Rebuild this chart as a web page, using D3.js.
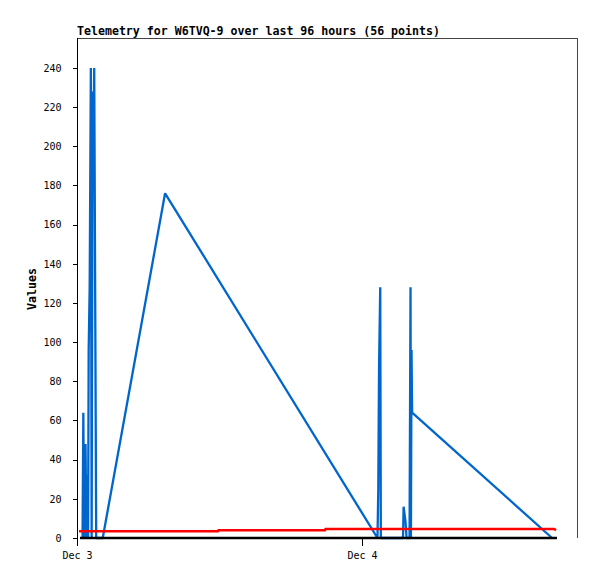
<!DOCTYPE html>
<html>
<head>
<meta charset="utf-8">
<script src="https://cdn.jsdelivr.net/npm/d3@7"></script>
<style>
  html, body { margin: 0; padding: 0; background: #fff; }
  svg { display: block; }
  text { font-family: "DejaVu Sans Mono", monospace; fill: #000; }
</style>
</head>
<body>
<svg id="chart" width="597" height="579"></svg>
<script>
// ---- data ----
const titleText = "Telemetry for W6TVQ-9 over last 96 hours (56 points)";
const yLabel = "Values";
const xDomain = ["2023-12-03 00:00", "2023-12-04 18:06"];
const yTicks = [0, 20, 40, 60, 80, 100, 120, 140, 160, 180, 200, 220, 240];
const xTicks = ["2023-12-03 00:00", "2023-12-04 00:00"];

const blueTimes = [
  "2023-12-03 00:28", "2023-12-03 00:32", "2023-12-03 00:36", "2023-12-03 00:43",
  "2023-12-03 00:48", "2023-12-03 00:53", "2023-12-03 00:56", "2023-12-03 00:59",
  "2023-12-03 01:04", "2023-12-03 01:10", "2023-12-03 01:14", "2023-12-03 01:19",
  "2023-12-03 01:22", "2023-12-03 01:27", "2023-12-03 01:32", "2023-12-03 01:37",
  "2023-12-03 02:10", "2023-12-03 07:25",
  "2023-12-04 01:18", "2023-12-04 01:22", "2023-12-04 01:26", "2023-12-04 01:32",
  "2023-12-04 01:35", "2023-12-04 03:27", "2023-12-04 03:30", "2023-12-04 03:40",
  "2023-12-04 03:45", "2023-12-04 04:00", "2023-12-04 04:05", "2023-12-04 04:07",
  "2023-12-04 04:10", "2023-12-04 04:13", "2023-12-04 16:00"
];
const blueValues = [
  0, 64, 0, 48,
  0, 32, 0, 96,
  128, 240, 0, 228,
  192, 240, 121, 0,
  0, 176,
  0, 24, 88, 128,
  0, 0, 16, 8,
  0, 0, 128, 0,
  96, 64, 0
];

const redTimes = [
  "2023-12-03 00:10", "2023-12-03 11:52", "2023-12-03 11:55", "2023-12-03 20:53",
  "2023-12-03 20:56", "2023-12-04 16:10", "2023-12-04 16:20"
];
const redValues = [3.5, 3.5, 4.0, 4.0, 4.6, 4.6, 4.0];

const blackTimes = ["2023-12-03 00:15", "2023-12-04 16:25"];
const blackValues = [0, 0];

// ---- chart ----
const parse = d3.timeParse("%Y-%m-%d %H:%M");
const svg = d3.select("#chart");
const mLeft = 77, mRight = 577, mTop = 38, mBottom = 538;

const x = d3.scaleTime().domain(xDomain.map(parse)).range([mLeft, mRight]);
const y = d3.scaleLinear().domain([0, 255.3]).range([mBottom, mTop]);

// frame (top and right)
svg.append("path")
  .attr("d", `M${mLeft},${mTop + 0.5}H${mRight + 0.5}V${mBottom}`)
  .attr("fill", "none").attr("stroke", "#444").attr("stroke-width", 1)
  .attr("shape-rendering", "crispEdges");

// title
svg.append("text")
  .attr("x", mLeft).attr("y", 35)
  .attr("font-size", "11.6px").attr("font-weight", "bold")
  .text(titleText);

// y label
svg.append("text")
  .attr("transform", `translate(36,289) rotate(-90)`)
  .attr("text-anchor", "middle")
  .attr("font-size", "11.6px").attr("font-weight", "bold")
  .text(yLabel);

// y axis
const yAxis = d3.axisLeft(y).tickValues(yTicks).tickSize(5).tickPadding(11);
const gy = svg.append("g").attr("transform", `translate(${mLeft + 0.5},0)`).call(yAxis);
gy.select(".domain").remove();
gy.selectAll("line").attr("stroke", "#000").attr("shape-rendering", "crispEdges");
gy.selectAll("text").attr("font-size", "10px").attr("font-family", "DejaVu Sans Mono, monospace").attr("fill", "#000");
svg.append("line")
  .attr("x1", mLeft + 0.5).attr("x2", mLeft + 0.5).attr("y1", mTop).attr("y2", mBottom + 1)
  .attr("stroke", "#000").attr("shape-rendering", "crispEdges");

// x axis
const xAxis = d3.axisBottom(x).tickValues(xTicks.map(parse))
  .tickFormat(d3.timeFormat("%b %-d")).tickSize(7).tickPadding(6);
const gx = svg.append("g").attr("transform", `translate(0,${mBottom + 0.5})`).call(xAxis);
gx.select(".domain").remove();
gx.selectAll("line").attr("stroke", "#000").attr("shape-rendering", "crispEdges");
gx.selectAll("text").attr("font-size", "10px").attr("font-family", "DejaVu Sans Mono, monospace").attr("fill", "#000");

// series
function series(times, values) {
  return times.map((t, i) => ({ t: parse(t), v: values[i] }));
}
const line = d3.line().x(d => x(d.t)).y(d => y(d.v));

svg.append("path").datum(series(blueTimes, blueValues))
  .attr("d", line).attr("fill", "none").attr("stroke", "#0066cc")
  .attr("stroke-width", 2.3).attr("stroke-linejoin", "miter").attr("stroke-miterlimit", 1);

svg.append("path").datum(series(redTimes, redValues))
  .attr("d", line).attr("fill", "none").attr("stroke", "#ff0000")
  .attr("stroke-width", 2.5);

svg.append("path").datum(series(blackTimes, blackValues))
  .attr("d", line).attr("fill", "none").attr("stroke", "#000")
  .attr("stroke-width", 2.5);
</script>
</body>
</html>
